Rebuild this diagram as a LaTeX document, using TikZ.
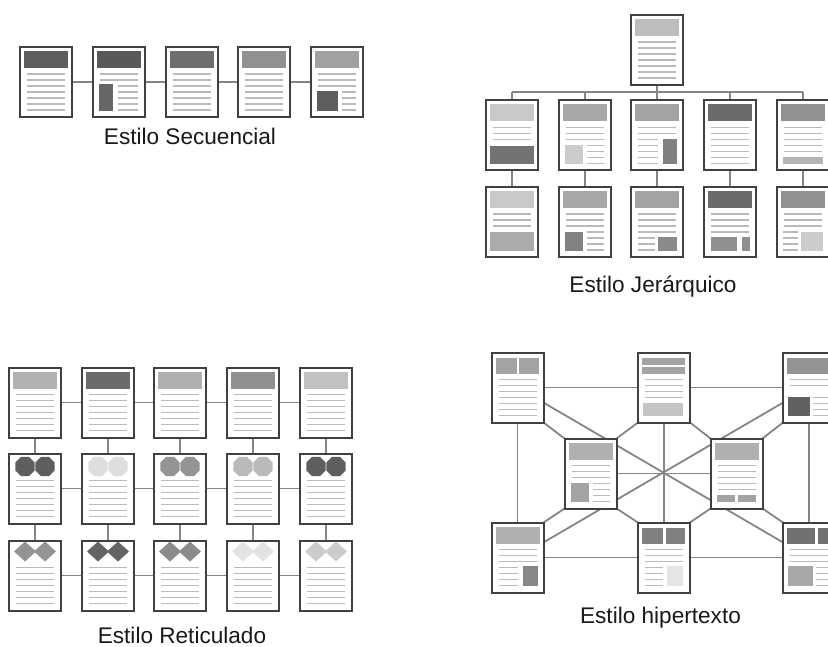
\documentclass[tikz,border=0pt]{standalone}
\usepackage{fontspec}
\setmainfont{Liberation Sans}
\pgfdeclarelayer{bg}
\pgfsetlayers{bg,main}
\definecolor{pgborder}{HTML}{404040}
\definecolor{linkgray}{HTML}{858585}
\definecolor{txtgray}{HTML}{BABABA}
% page furniture, coordinates relative to the page's outer top-left corner
\newcommand\inpage[2]{\begin{scope}[shift={(#1.north west)},shift={(-1,-1)}]#2\end{scope}}
\newcommand\pghead[1]{\fill[#1] (5,5) rectangle (49,22);}
\newcommand\pglines[4]{\foreach \k in {#3,...,#4}{\draw[txt] (#1,28+6*\k) -- (#2,28+6*\k);}}
\newcommand\pgblock[5]{\fill[#5] (#1,#2) rectangle (#3,#4);}
\newcommand\octa[3]{\fill[#3] (#1,#2) +(22.5:10.5) -- +(67.5:10.5) -- +(112.5:10.5) -- +(157.5:10.5) -- +(202.5:10.5) -- +(247.5:10.5) -- +(292.5:10.5) -- +(337.5:10.5) -- cycle;}
\newcommand\dmd[3]{\fill[#3] (#1,#2) +(-11,0) -- +(0,-10) -- +(11,0) -- +(0,10) -- cycle;}
\begin{document}
\begin{tikzpicture}[x=1pt,y=-1pt,
  pagebox/.style={rectangle, draw=pgborder, line width=2pt, fill=white,
    minimum width=52pt, minimum height=70pt, inner sep=0pt, outer sep=0pt},
  link/.style={draw=linkgray, line width=1.8pt},
  txt/.style={draw=txtgray, line width=1.8pt},
  caption/.style={font=\fontsize{22.6}{27}\selectfont, text=black!90,
    anchor=base, inner sep=0pt}]
\useasboundingbox (0,0) rectangle (828,647);
\clip (0,0) rectangle (828,647);
\begin{pgfonlayer}{bg}
\fill[white] (0,0) rectangle (828,647);
\end{pgfonlayer}

% ---------- sequential ----------
\node[pagebox] (s1) at (46,82) {};
\node[pagebox] (s2) at (119,82) {};
\node[pagebox] (s3) at (192,82) {};
\node[pagebox] (s4) at (264,82) {};
\node[pagebox] (s5) at (337,82) {};
\inpage{s1}{\pghead{black!63}\pglines{8}{46}{0}{6}}
\inpage{s2}{\pghead{black!65}\pglines{8}{46}{0}{1}\pgblock{7}{38}{21}{65}{black!60}\pglines{26}{46}{2}{6}}
\inpage{s3}{\pghead{black!57}\pglines{8}{46}{0}{6}}
\inpage{s4}{\pghead{black!43}\pglines{8}{46}{0}{6}}
\inpage{s5}{\pghead{black!37}\pglines{8}{46}{0}{2}\pgblock{7}{45}{28}{65}{black!63}\pglines{32}{46}{3}{6}}
\begin{pgfonlayer}{bg}
\draw[link] (s1) -- (s2) -- (s3) -- (s4) -- (s5);
\end{pgfonlayer}
\node[caption] (capS) at (190,145) {Estilo Secuencial};

% ---------- hierarchical ----------
\node[pagebox] (h0) at (657,50) {};
\node[pagebox] (ha) at (512,135.5) {};
\node[pagebox] (hb) at (585,135.5) {};
\node[pagebox] (hc) at (657,135.5) {};
\node[pagebox] (hd) at (730,135.5) {};
\node[pagebox] (he) at (803,135.5) {};
\node[pagebox] (ka) at (512,222) {};
\node[pagebox] (kb) at (585,222) {};
\node[pagebox] (kc) at (657,222) {};
\node[pagebox] (kd) at (730,222) {};
\node[pagebox] (ke) at (803,222) {};
\inpage{h0}{\pghead{black!26}\pglines{8}{46}{0}{6}}
\inpage{ha}{\pghead{black!21}\pglines{8}{46}{0}{2}\pgblock{5}{47}{49}{65}{black!55}}
\inpage{hb}{\pghead{black!34}\pglines{8}{46}{0}{2}\pgblock{7}{46}{25}{65}{black!20}\pglines{29}{46}{3}{6}}
\inpage{hc}{\pghead{black!36}\pglines{8}{46}{0}{1}\pglines{8}{28}{2}{6}\pgblock{33}{40}{47}{65}{black!50}}
\inpage{hd}{\pghead{black!58}\pglines{8}{46}{0}{6}}
\inpage{he}{\pghead{black!43}\pglines{8}{46}{0}{4}\pgblock{7}{58}{47}{65}{black!29}}
\inpage{ka}{\pghead{black!21}\pglines{8}{46}{0}{2}\pgblock{5}{46}{49}{65}{black!33}}
\inpage{kb}{\pghead{black!34}\pglines{8}{46}{0}{2}\pgblock{7}{46}{25}{65}{black!49}\pglines{29}{46}{3}{6}}
\inpage{kc}{\pghead{black!36}\pglines{8}{46}{0}{3}\pglines{8}{25}{4}{6}\pgblock{28}{51}{47}{65}{black!46}}
\inpage{kd}{\pghead{black!58}\pglines{8}{46}{0}{3}\pgblock{8}{51}{34}{65}{black!44}\pgblock{39}{51}{47}{65}{black!44}}
\inpage{ke}{\pghead{black!43}\pglines{8}{46}{0}{2}\pglines{7}{22}{3}{6}\pgblock{25}{46}{47}{65}{black!20}}
\coordinate (busL) at (512,92);
\coordinate (busR) at (803,92);
\begin{pgfonlayer}{bg}
\draw[link] (h0) -- (h0 |- busL);
\draw[link] (busL) -- (busR);
\foreach \c in {a,b,c,d,e}{\draw[link] (h\c.north |- busL) -- (h\c) -- (k\c);}
\end{pgfonlayer}
\node[caption] (capH) at (653,293) {Estilo Jerárquico};

% ---------- grid ----------
\foreach \c/\x in {1/35,2/108,3/180,4/253,5/326}{
  \node[pagebox] (r1\c) at (\x,402.5) {};
  \node[pagebox] (r2\c) at (\x,488.5) {};
  \node[pagebox] (r3\c) at (\x,575.5) {};
}
\foreach \c/\col in {1/black!30,2/black!58,3/black!31,4/black!44,5/black!24}{
  \inpage{r1\c}{\pghead{\col}\pglines{8}{46}{0}{6}}}
\foreach \c/\col in {1/black!63,2/black!13,3/black!42,4/black!27,5/black!63}{
  \inpage{r2\c}{\octa{17}{14}{\col}\octa{37}{14}{\col}\pglines{8}{46}{0}{6}}}
\foreach \c/\col in {1/black!42,2/black!61,3/black!45,4/black!11,5/black!20}{
  \inpage{r3\c}{\dmd{17}{12}{\col}\dmd{37}{12}{\col}\pglines{8}{46}{0}{6}}}
\begin{pgfonlayer}{bg}
\foreach \r in {1,2,3}{\draw[link] (r\r1) -- (r\r2) -- (r\r3) -- (r\r4) -- (r\r5);}
\foreach \c in {1,...,5}{\draw[link] (r1\c) -- (r2\c) -- (r3\c);}
\end{pgfonlayer}
\node[caption] (capR) at (182,643.5) {Estilo Reticulado};

% ---------- hypertext ----------
\node[pagebox] (A) at (517.5,387.5) {};
\node[pagebox] (B) at (664,387.5) {};
\node[pagebox] (C) at (809,387.5) {};
\node[pagebox] (D) at (590.5,473.5) {};
\node[pagebox] (E) at (736.5,473.5) {};
\node[pagebox] (F) at (517.5,557.5) {};
\node[pagebox] (G) at (664,557.5) {};
\node[pagebox] (H) at (809,557.5) {};
\inpage{A}{\pgblock{5}{6}{26}{22}{black!36}\pgblock{28}{6}{48}{22}{black!36}\pglines{8}{46}{0}{6}}
\inpage{B}{\pgblock{5}{6}{48}{13}{black!36}\pgblock{5}{15}{48}{22}{black!36}\pglines{8}{46}{0}{3}\pgblock{6}{51}{46}{64}{black!23}}
\inpage{C}{\pgblock{5}{6}{60}{22}{black!42}\pglines{8}{46}{0}{1}\pgblock{6}{45}{28}{64}{black!62}\pglines{31}{46}{3}{6}}
\inpage{D}{\pghead{black!31}\pglines{8}{46}{0}{2}\pgblock{7}{45}{25}{64}{black!36}\pglines{29}{46}{3}{6}}
\inpage{E}{\pghead{black!31}\pglines{8}{46}{0}{4}\pgblock{7}{57}{25}{64}{black!36}\pgblock{28}{57}{46}{64}{black!36}}
\inpage{F}{\pghead{black!31}\pglines{8}{46}{0}{2}\pglines{8}{27}{3}{6}\pgblock{32}{44}{47}{64}{black!47}}
\inpage{G}{\pgblock{5}{6}{26}{22}{black!50}\pgblock{29}{6}{48}{22}{black!50}\pglines{8}{46}{0}{2}\pglines{8}{26}{3}{6}\pgblock{30}{44}{46}{64}{black!10}}
\inpage{H}{\pgblock{5}{6}{33}{22}{black!56}\pgblock{36}{6}{60}{22}{black!56}\pglines{8}{46}{0}{2}\pgblock{6}{44}{31}{64}{black!34}\pglines{34}{46}{3}{6}}
\begin{pgfonlayer}{bg}
\draw[link] (A) -- (B) -- (C);
\draw[link] (F) -- (G) -- (H);
\draw[link] (A) -- (F);
\draw[link] (C) -- (H);
\draw[link] (B) -- (G);
\draw[link] (D) -- (E);
\draw[link] (A) -- (H);
\draw[link] (C) -- (F);
\draw[link] (A.south east) -- (D.north west);
\draw[link] (B.south west) -- (D.north east);
\draw[link] (B.south east) -- (E.north west);
\draw[link] (C.south west) -- (E.north east);
\draw[link] (D.south west) -- (F.north east);
\draw[link] (D.south east) -- (G.north west);
\draw[link] (E.south west) -- (G.north east);
\draw[link] (E.south east) -- (H.north west);
\end{pgfonlayer}
\node[caption] (capX) at (660.5,623) {Estilo hipertexto};
\end{tikzpicture}
\end{document}
